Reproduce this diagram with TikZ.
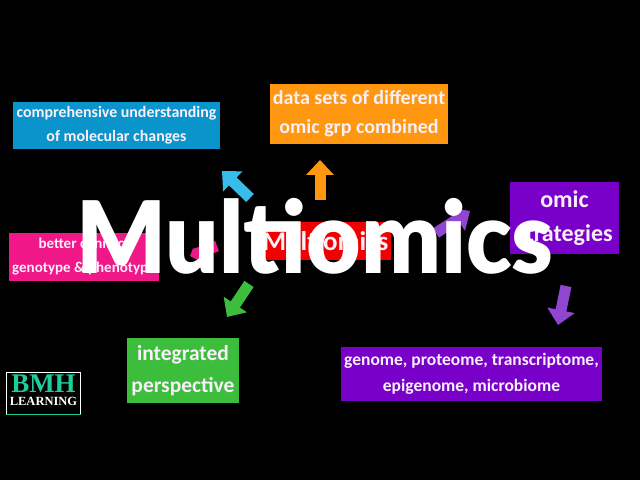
\documentclass[tikz,border=0pt]{standalone}
\usepackage{fontspec}
\setmainfont{Carlito}
\newfontfamily\titlefont{Lato Black}
\newfontfamily\logofont{Liberation Serif}
\usetikzlibrary{positioning}
\usetikzlibrary{arrows.meta}
\definecolor{boxblue}{RGB}{9,148,204}
\definecolor{boxorange}{RGB}{255,152,16}
\definecolor{boxpink}{RGB}{240,24,136}
\definecolor{boxred}{RGB}{240,0,0}
\definecolor{boxviolet}{RGB}{120,0,200}
\definecolor{boxgreen}{RGB}{60,190,60}
\definecolor{arrowblue}{RGB}{56,188,236}
\definecolor{arrowviolet}{RGB}{145,70,210}
\definecolor{logoteal}{RGB}{30,205,155}
\definecolor{labelwhite}{RGB}{250,240,250}
\tikzset{
  panel/.style={fill=#1, text=labelwhite, align=center, inner sep=0pt, font=\bfseries},
  bigarrow/.style={draw=#1, line width=11pt, -{Triangle[length=15pt,width=27pt]}},
}

\begin{document}
\begin{tikzpicture}[x=1pt,y=1pt]

%---------------------------------------
% Background
%---------------------------------------
\fill[black] (0,0) rectangle (640,480);
\useasboundingbox (0,0) rectangle (640,480);

%---------------------------------------
% Boxes
%---------------------------------------
\node[panel=boxblue, minimum width=207pt, minimum height=47pt, font=\bfseries\fontsize{15.9}{23.5}\selectfont] (understanding) at (116.5,354.5)
  {comprehensive understanding\\of molecular changes};
\node[panel=boxorange, minimum width=178pt, minimum height=60pt, font=\bfseries\fontsize{20}{29}\selectfont] (datasets) at (359,366)
  {data sets of different\\omic grp combined};
\node[panel=boxpink, minimum width=150pt, minimum height=48pt, font=\bfseries\fontsize{15}{24}\selectfont] (connect) at (84,223)
  {better connect\\genotype \& phenotype};
\node[panel=boxred, minimum width=131pt, minimum height=38pt, font=\bfseries\fontsize{27}{30}\selectfont] (centre) at (325.5,239)
  {Multiomics};
\node[panel=boxviolet, minimum width=109pt, minimum height=72pt, font=\bfseries\fontsize{24}{34}\selectfont] (strategies) at (564.5,262)
  {omic\\strategies};
\node[panel=boxgreen, minimum width=112pt, minimum height=65pt, font=\bfseries\fontsize{21.5}{32}\selectfont] (perspective) at (183,109.5)
  {integrated\\perspective};
\node[panel=boxviolet, minimum width=261pt, minimum height=54pt, font=\bfseries\fontsize{17.5}{26}\selectfont] (omes) at (471.5,106)
  {genome, proteome, transcriptome,\\epigenome, microbiome};

%---------------------------------------
% Arrows around the centre
%---------------------------------------
\foreach \name/\col/\xa/\ya/\xb/\yb in {
    toblue/arrowblue/250/282/222/309,
    toorange/boxorange/320/280/320/320,
    toviolet/arrowviolet/436/247/470/269,
    togreen/boxgreen/249/196/227/163,
    tolist/arrowviolet/566/194/558/155}{
  \coordinate (\name tail) at (\xa,\ya);
  \coordinate (\name tip) at (\xb,\yb);
  \draw[bigarrow=\col] (\name tail) -- (\name tip);
}

% pink one, its head sits behind the title
\coordinate (topink tail) at (217,234);
\coordinate (topink tip) at (190,224);
\draw[draw=boxpink, line width=11pt, -{Triangle[length=6pt,width=13pt]}] (topink tail) -- (topink tip);

%---------------------------------------
% Title
%---------------------------------------
\node[text=white, inner sep=0pt, anchor=base, xscale=0.94, font=\titlefont\fontsize{100}{100}\selectfont] (title) at (315,207) {Multiomics};

%---------------------------------------
% Logo
%---------------------------------------
\node[draw=white, line width=0.8pt, minimum width=74pt, minimum height=42pt, inner sep=0pt] (logo) at (43.5,87) {};
\draw[draw=logoteal, line width=1pt] (logo.south west) -- (logo.south east);
\node[text=logoteal, inner sep=0pt, font=\logofont\bfseries\fontsize{27}{27}\selectfont] (bmh) at (43.5,96) {BMH};
\node[text=white, inner sep=0pt, below=4pt of bmh, font=\logofont\bfseries\fontsize{12.5}{12.5}\selectfont] (learning) {LEARNING};

\end{tikzpicture}
\end{document}
